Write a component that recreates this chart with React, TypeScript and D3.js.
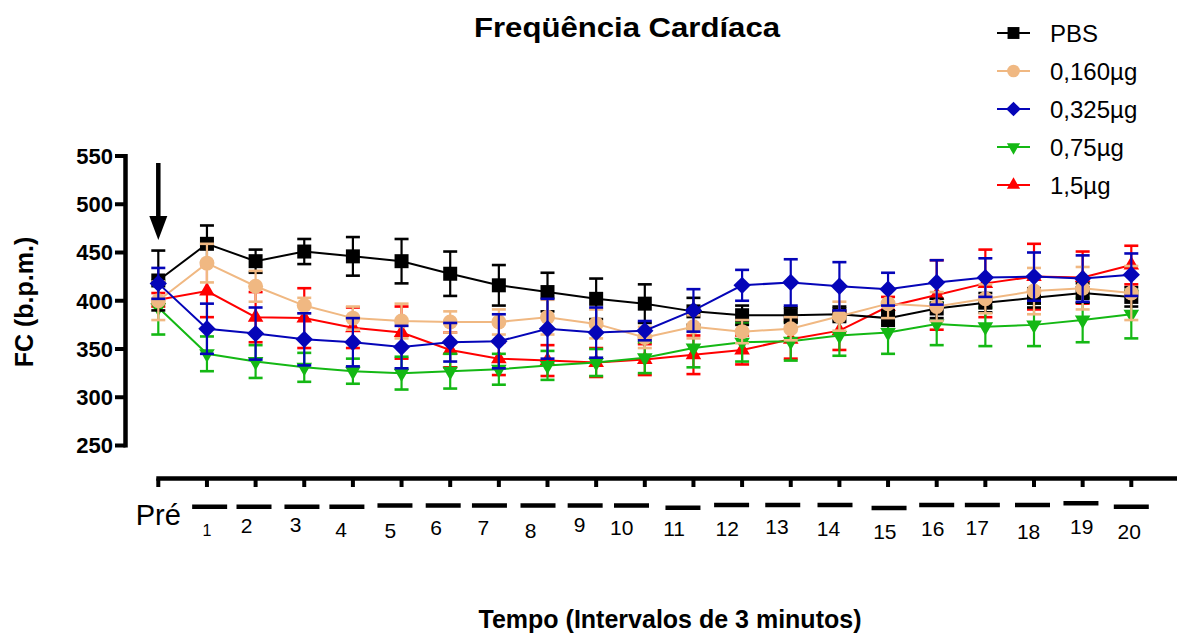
import React from 'react';
import * as d3 from 'd3';

// ---------- data ----------
const timeLabels = ['Pré', '1', '2', '3', '4', '5', '6', '7', '8', '9', '10', '11', '12', '13', '14', '15', '16', '17', '18', '19', '20'];
const yTicks = [250, 300, 350, 400, 450, 500, 550];
const seriesNames = ['PBS', '0,160µg', '0,325µg', '0,75µg', '1,5µg'];

const pbsMean = [421, 459, 441, 451, 446, 441, 428, 416, 409, 402, 397, 389, 385, 385, 386, 382, 392, 398, 403, 408, 404];
const pbsErr = [31, 19, 12, 13, 20, 23, 23, 21, 20, 21, 20, 14, 10, 8, 8, 8, 10, 10, 10, 10, 10];

const dose160Mean = [400, 439, 415, 395, 382, 379, 378, 378, 383, 376, 362, 373, 368, 371, 384, 397, 394, 402, 410, 413, 408];
const dose160Err = [20, 20, 16, 8, 12, 18, 11, 13, 18, 15, 11, 12, 12, 12, 15, 15, 15, 15, 24, 22, 28];

const dose325Mean = [418, 371, 366, 360, 357, 352, 357, 358, 371, 367, 369, 390, 416, 419, 415, 412, 419, 424, 425, 423, 427];
const dose325Err = [16, 26, 27, 27, 25, 22, 20, 28, 31, 26, 10, 22, 16, 24, 25, 17, 23, 20, 25, 24, 22];

const dose075Mean = [393, 345, 337, 331, 327, 325, 327, 329, 333, 336, 341, 351, 357, 358, 364, 367, 376, 373, 375, 380, 386];
const dose075Err = [28, 18, 17, 15, 13, 17, 18, 16, 15, 14, 16, 20, 20, 20, 21, 22, 22, 20, 22, 23, 25];

const dose15Mean = [401, 410, 383, 382, 372, 367, 349, 340, 338, 336, 339, 344, 349, 360, 369, 394, 406, 418, 425, 424, 437];
const dose15Err = [7, 27, 26, 31, 21, 27, 18, 17, 16, 15, 16, 20, 15, 20, 20, 10, 36, 35, 34, 27, 20];

// ---------- layout (not data) ----------
const W = 1177;
const H = 637;
const FONT = "Arial, 'Liberation Sans', Helvetica, sans-serif";

// hand-jittered label layout of the original figure (per label 1..20)
const barDx = [2.7, -1.6, -2.3, -6, -6.6, -7, -9.4, -9.5, -11, -13.3, -10.5, -10.5, -8, -4.4, 1, 0, -3, -1.5, -1.7, 0];
const barY = [506.7, 506.7, 506.7, 506.7, 505.5, 505.5, 505.5, 505.5, 505.5, 505.5, 507.7, 505, 505, 505, 508, 505, 505, 505, 503.3, 506.7];
const numDx = [0, -9, -8.6, -11.7, -11.3, -14, -15.6, -17, -16.6, -23, -19.3, -14.8, -13.8, -11, -3.2, -4, -8.2, -5.4, -1, -2];
const numCy = [530, 525.8, 524, 529, 530.8, 527.5, 527.5, 530.2, 524, 527.5, 528.9, 528.9, 526.5, 528.9, 531.6, 528.9, 527, 531, 526.5, 531.6];

type MarkerKind = 'square' | 'circle' | 'diamond' | 'triDown' | 'triUp';

const seriesMeans = [pbsMean, dose160Mean, dose325Mean, dose075Mean, dose15Mean];
const seriesErrs = [pbsErr, dose160Err, dose325Err, dose075Err, dose15Err];
const seriesColors = ['#000000', '#F0B882', '#0505B8', '#14B814', '#FF0000'];
const seriesMarkers: MarkerKind[] = ['square', 'circle', 'diamond', 'triDown', 'triUp'];
// drawing order (later on top)
const drawOrder = [4, 3, 0, 1, 2];

function markerPath(kind: MarkerKind, scale: number): { d: string; rotate: number } {
  switch (kind) {
    case 'square':
      return { d: d3.symbol().type(d3.symbolSquare).size(196 * scale * scale)()!, rotate: 0 };
    case 'circle':
      return { d: d3.symbol().type(d3.symbolCircle).size(Math.PI * 56 * scale * scale)()!, rotate: 0 };
    case 'diamond':
      return { d: d3.symbol().type(d3.symbolSquare).size(150 * scale * scale)()!, rotate: 45 };
    case 'triDown':
      return { d: d3.symbol().type(d3.symbolTriangle).size(105 * scale * scale)()!, rotate: 180 };
    case 'triUp':
      return { d: d3.symbol().type(d3.symbolTriangle).size(105 * scale * scale)()!, rotate: 0 };
  }
}

export default function App() {
  const x = d3.scaleLinear().domain([0, 20]).range([158.3, 1131.3]);
  const y = d3.scaleLinear().domain([250, 550]).range([445.5, 156]);
  const idx = d3.range(timeLabels.length);

  const line = (means: number[]) =>
    d3
      .line<number>()
      .x((_, i) => x(i))
      .y((v) => y(v))(means)!;

  const yAxisX = 125.5;
  const xAxisY = 478.5;
  const capW = 7;

  return (
    <svg
      width={W}
      height={H}
      viewBox={`0 0 ${W} ${H}`}
      style={{ position: 'absolute', left: 0, top: 0, background: '#fff' }}
      fontFamily={FONT}
    >
      <rect x={0} y={0} width={W} height={H} fill="#fff" />

      {/* title */}
      <text x={627} y={37} textAnchor="middle" fontSize={28} fontWeight="bold" textLength={306} lengthAdjust="spacingAndGlyphs">
        Freqüência Cardíaca
      </text>

      {/* y axis */}
      <line x1={yAxisX} x2={yAxisX} y1={y(550) - 2} y2={y(250) + 2} stroke="#000" strokeWidth={4.5} />
      {yTicks.map((t) => (
        <g key={t}>
          <line x1={115} x2={yAxisX} y1={y(t)} y2={y(t)} stroke="#000" strokeWidth={4} />
          <text x={113} y={y(t)} dy="0.36em" textAnchor="end" fontSize={22} fontWeight="bold">
            {t}
          </text>
        </g>
      ))}
      <text transform={`translate(33, 302) rotate(-90)`} textAnchor="middle" fontSize={25} fontWeight="bold">
        FC (b.p.m.)
      </text>

      {/* x axis */}
      <line x1={x(0) - 2} x2={W} y1={xAxisY} y2={xAxisY} stroke="#000" strokeWidth={4.5} />
      {idx.map((i) => (
        <line key={i} x1={x(i)} x2={x(i)} y1={xAxisY} y2={487} stroke="#000" strokeWidth={4} />
      ))}
      <text x={x(0)} y={525} textAnchor="middle" fontSize={29}>
        {timeLabels[0]}
      </text>
      {idx.slice(1).map((i) => (
        <g key={i}>
          <line
            x1={x(i) + barDx[i - 1] - 17.5}
            x2={x(i) + barDx[i - 1] + 17.5}
            y1={barY[i - 1]}
            y2={barY[i - 1]}
            stroke="#000"
            strokeWidth={4.5}
          />
          <text
            x={x(i) + numDx[i - 1]}
            y={numCy[i - 1]}
            dy="0.36em"
            textAnchor="middle"
            fontSize={i === 1 ? 16 : 21}
          >
            {timeLabels[i]}
          </text>
        </g>
      ))}
      <text x={670} y={628} textAnchor="middle" fontSize={25} fontWeight="bold">
        Tempo (Intervalos de 3 minutos)
      </text>

      {/* arrow */}
      <line x1={x(0)} x2={x(0)} y1={163} y2={222} stroke="#000" strokeWidth={4.5} />
      <path d={`M${x(0) - 9},216 L${x(0) + 9},216 L${x(0)},240 Z`} fill="#000" />

      {/* series */}
      {drawOrder.map((s) => {
        const means = seriesMeans[s];
        const errs = seriesErrs[s];
        const color = seriesColors[s];
        const mk = markerPath(seriesMarkers[s], 1);
        return (
          <g key={s}>
            {means.map((m, i) => {
              const yt = y(m + errs[i]);
              const yb = y(m - errs[i]);
              const cx = x(i);
              return (
                <g key={i} stroke={color} strokeWidth={2.2}>
                  <line x1={cx} x2={cx} y1={yt} y2={yb} />
                  <line x1={cx - capW} x2={cx + capW} y1={yt} y2={yt} strokeWidth={2.6} />
                  <line x1={cx - capW} x2={cx + capW} y1={yb} y2={yb} strokeWidth={2.6} />
                </g>
              );
            })}
            <path d={line(means)} fill="none" stroke={color} strokeWidth={2} />
            {means.map((m, i) => (
              <path
                key={i}
                d={mk.d}
                fill={color}
                transform={`translate(${x(i)},${y(m)}) rotate(${mk.rotate})`}
              />
            ))}
          </g>
        );
      })}

      {/* legend */}
      {seriesNames.map((name, s) => {
        const ry = 33 + s * 38;
        const mk = markerPath(seriesMarkers[s], 0.85);
        return (
          <g key={name}>
            <line x1={997} x2={1030} y1={ry} y2={ry} stroke={seriesColors[s]} strokeWidth={2} />
            <path d={mk.d} fill={seriesColors[s]} transform={`translate(1013.5,${ry}) rotate(${mk.rotate})`} />
            <text x={1050} y={ry} dy="0.36em" fontSize={24}>
              {name}
            </text>
          </g>
        );
      })}
    </svg>
  );
}
